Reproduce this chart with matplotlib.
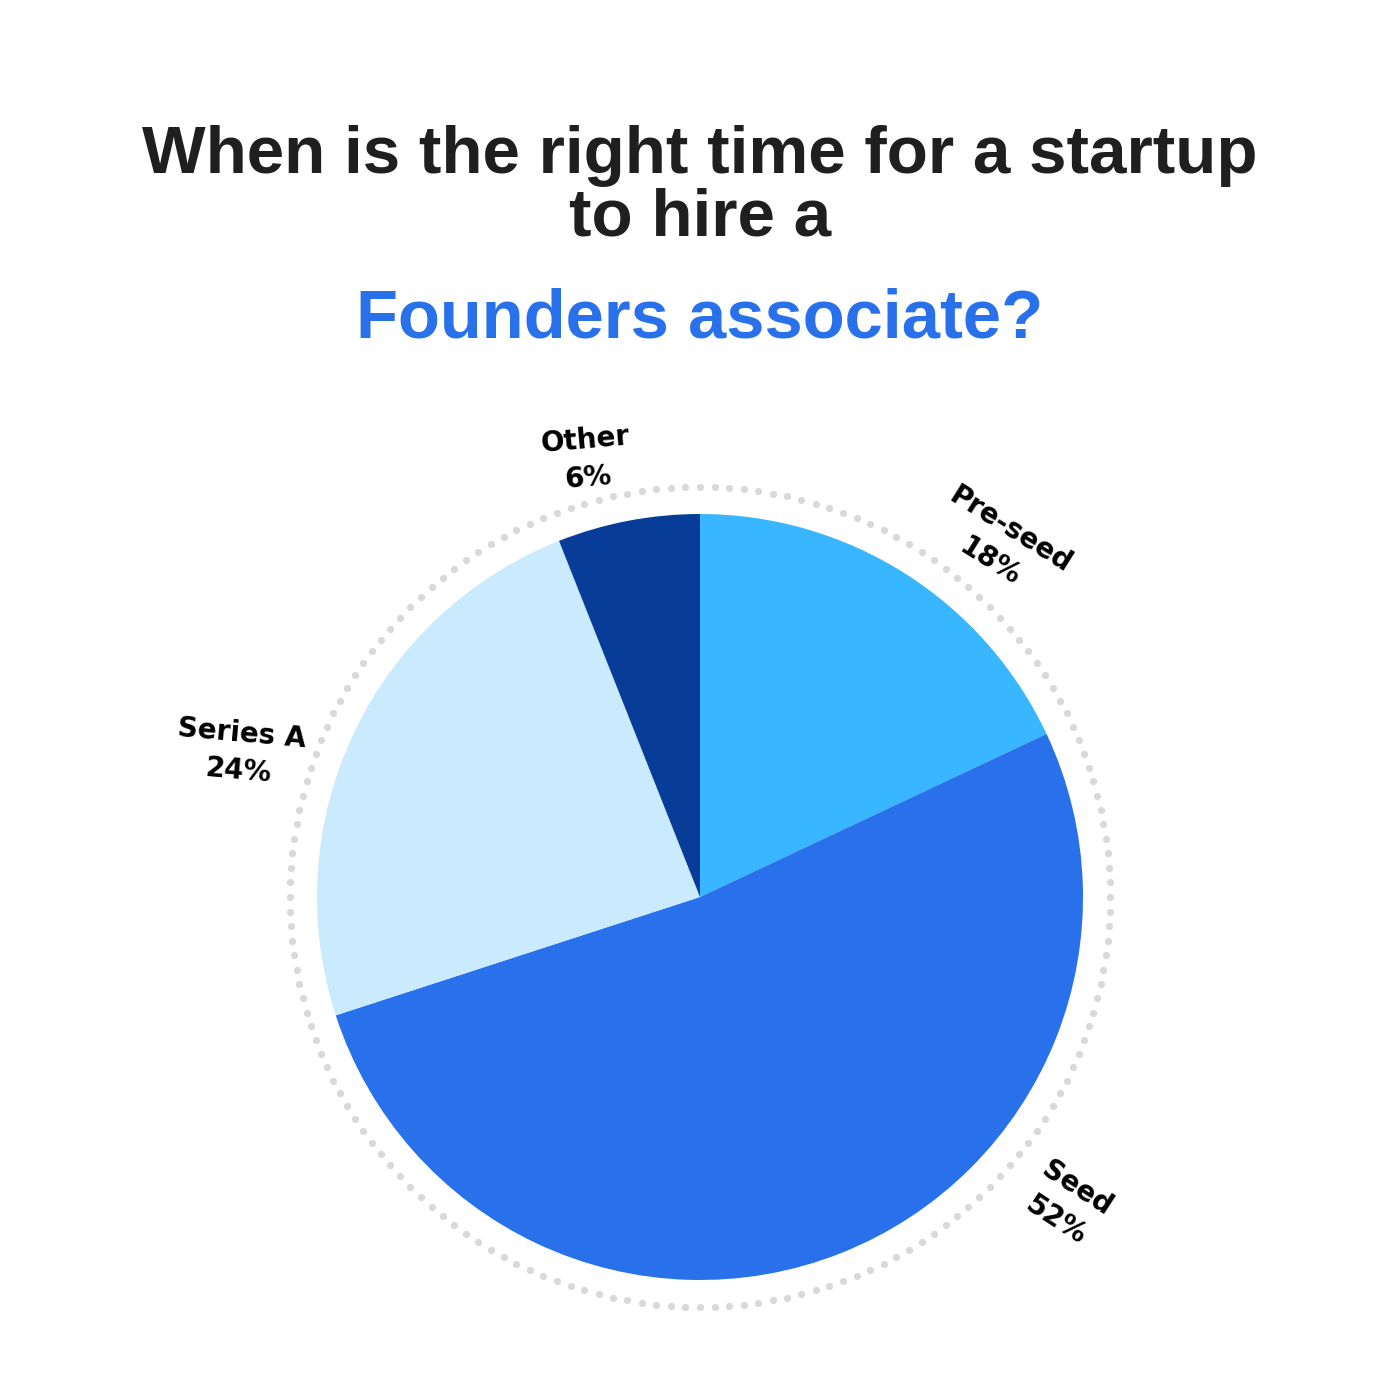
import numpy as np
import matplotlib.pyplot as plt

# data
stages = ["Pre-seed", "Seed", "Series A", "Other"]
shares = [18, 52, 24, 6]
colors = ["#38B6FF", "#2970EB", "#C9EBFD", "#083C99"]

# label placement (angle in degrees, radius in px, text rotation)
label_angles = [49.5, -40, 162.5, 104.5]
label_radii = [462, 478, 482, 452]
label_rot = [-32, -33, -5, 5]

W = 1400
cx, cy, R = 700, W - 897, 383

fig = plt.figure(figsize=(14, 14), dpi=100)
ax = fig.add_axes([0, 0, 1, 1])

# dotted ring
t = np.linspace(0, 2 * np.pi, 176, endpoint=False)
ax.plot(cx + 410 * np.cos(t), cy + 410 * np.sin(t), "o", ms=5.2,
        color="#D9D9D9", mec="none")

ax.pie(shares, colors=colors, startangle=90, counterclock=False,
       center=(cx, cy), radius=R, frame=True,
       wedgeprops=dict(linewidth=0))
ax.set_xlim(0, W)
ax.set_ylim(0, W)
ax.set_aspect("equal")
ax.axis("off")

for name, val, a, r, rot in zip(stages, shares, label_angles, label_radii, label_rot):
    x = cx + r * np.cos(np.radians(a))
    y = cy + r * np.sin(np.radians(a))
    ax.text(x, y, f"{name}\n{val}%", ha="center", va="center", rotation=rot,
            rotation_mode="anchor", fontsize=20, fontweight="bold",
            family="DejaVu Sans", color="#000000", linespacing=1.45)

ax.text(W / 2, W - 235, "When is the right time for a startup\nto hire a",
        ha="center", va="baseline", fontsize=48.5, fontweight="bold",
        family="Liberation Sans", color="#1F1F1F", linespacing=1.0)
ax.text(W / 2, W - 338, "Founders associate?", ha="center", va="baseline",
        fontsize=49.5, fontweight="bold", family="Liberation Sans", color="#2970EB")

fig.savefig("out.png", dpi=100, facecolor="white")
